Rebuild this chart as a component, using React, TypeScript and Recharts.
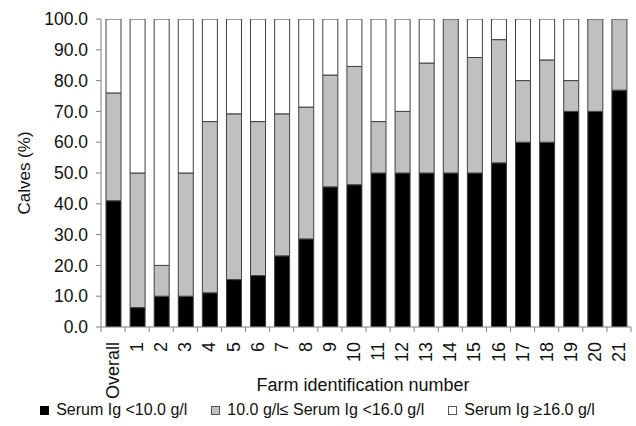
import { BarChart, Bar, XAxis, YAxis, Legend } from "recharts";

const categories = ["Overall", "1", "2", "3", "4", "5", "6", "7", "8", "9", "10", "11", "12", "13", "14", "15", "16", "17", "18", "19", "20", "21"];
const lowIg = [41.0, 6.3, 10.0, 10.0, 11.1, 15.4, 16.7, 23.1, 28.6, 45.5, 46.2, 50.0, 50.0, 50.0, 50.0, 50.0, 53.3, 60.0, 60.0, 70.0, 70.0, 76.9];
const midIg = [35.0, 43.7, 10.0, 40.0, 55.6, 53.8, 50.0, 46.1, 42.8, 36.3, 38.4, 16.7, 20.0, 35.7, 50.0, 37.5, 40.0, 20.0, 26.7, 10.0, 30.0, 23.1];
const highIg = [24.0, 50.0, 80.0, 50.0, 33.3, 30.8, 33.3, 30.8, 28.6, 18.2, 15.4, 33.3, 30.0, 14.3, 0.0, 12.5, 6.7, 20.0, 13.3, 20.0, 0.0, 0.0];
const yTicks = [0, 10, 20, 30, 40, 50, 60, 70, 80, 90, 100];
const seriesNames = ["Serum Ig <10.0 g/l", "10.0 g/l\u2264 Serum Ig <16.0 g/l", "Serum Ig \u226516.0 g/l"];

const FONT = "'Liberation Sans', Arial, sans-serif";
const WIDTH = 636;
const HEIGHT = 426;
const MARGIN = { top: 19, right: 5, left: 0, bottom: 4 };
const Y_AXIS_W = 101;
const HALF_BAND = (WIDTH - MARGIN.right - Y_AXIS_W) / categories.length / 2;
const COLORS = ["#000000", "#c0c0c0", "#ffffff"];
const STROKE = "#404040";

const data = categories.map((farm, i) => ({
  farm,
  low: lowIg[i],
  mid: midIg[i],
  high: highIg[i],
}));

const FarmTick = (props: any) => {
  const { x, y, payload, index } = props;
  const axisY = y - 8;
  return (
    <g>
      <line x1={x - HALF_BAND} y1={axisY} x2={x - HALF_BAND} y2={axisY + 5} stroke="#808080" />
      {index === categories.length - 1 && (
        <line x1={x + HALF_BAND} y1={axisY} x2={x + HALF_BAND} y2={axisY + 5} stroke="#808080" />
      )}
      <text
        x={x}
        y={axisY + 15}
        transform={`rotate(-90, ${x}, ${axisY + 15})`}
        textAnchor="end"
        dominantBaseline="central"
        fontSize={18}
        fontFamily={FONT}
        fill="#111"
      >
        {payload.value}
      </text>
    </g>
  );
};

const LegendBox = () => (
  <div
    style={{
      height: 24,
      display: "flex",
      justifyContent: "center",
      alignItems: "center",
      fontFamily: FONT,
      fontSize: 16,
      color: "#111",
      paddingLeft: 4,
    }}
  >
    {seriesNames.map((name, i) => (
      <span key={name} style={{ display: "flex", alignItems: "center", marginRight: i < 2 ? 24 : 0 }}>
        <span
          style={{
            width: 7,
            height: 7,
            background: COLORS[i],
            border: `1px solid ${i === 0 ? "#000" : "#555"}`,
            marginRight: 7,
          }}
        />
        {name}
      </span>
    ))}
  </div>
);

const App = () => {
  return (
    <div style={{ position: "absolute", top: 0, left: 0, background: "#fff" }}>
      <BarChart width={WIDTH} height={HEIGHT} data={data} margin={MARGIN}>
        <XAxis
          dataKey="farm"
          height={71}
          interval={0}
          axisLine={{ stroke: "#808080" }}
          tickLine={false}
          tick={<FarmTick />}
          label={({ viewBox }: any) => (
            <text
              x={viewBox.x + viewBox.width / 2 - 3}
              y={viewBox.y + 58}
              textAnchor="middle"
              dominantBaseline="central"
              fontSize={18}
              fontFamily={FONT}
              fill="#111"
            >
              Farm identification number
            </text>
          )}
        />
        <YAxis
          width={Y_AXIS_W}
          domain={[0, 100]}
          ticks={yTicks}
          allowDataOverflow
          axisLine={{ stroke: "#808080" }}
          tickLine={{ stroke: "#808080" }}
          tickSize={5}
          tickMargin={8}
          tickFormatter={(v: number) => v.toFixed(1)}
          tick={{ fontSize: 17.5, fontFamily: FONT, fill: "#111" }}
          label={({ viewBox }: any) => (
            <text
              x={24}
              y={viewBox.y + viewBox.height / 2}
              transform={`rotate(-90, 24, ${viewBox.y + viewBox.height / 2})`}
              textAnchor="middle"
              dominantBaseline="central"
              fontSize={17}
              fontFamily={FONT}
              fill="#111"
            >
              Calves (%)
            </text>
          )}
        />
        <Legend verticalAlign="bottom" content={<LegendBox />} />
        <Bar dataKey="low" stackId="s" fill={COLORS[0]} stroke={STROKE} strokeWidth={1} barSize={15} isAnimationActive={false} />
        <Bar dataKey="mid" stackId="s" fill={COLORS[1]} stroke={STROKE} strokeWidth={1} barSize={15} isAnimationActive={false} />
        <Bar dataKey="high" stackId="s" fill={COLORS[2]} stroke={STROKE} strokeWidth={1} barSize={15} isAnimationActive={false} />
      </BarChart>
    </div>
  );
};

export default App;
